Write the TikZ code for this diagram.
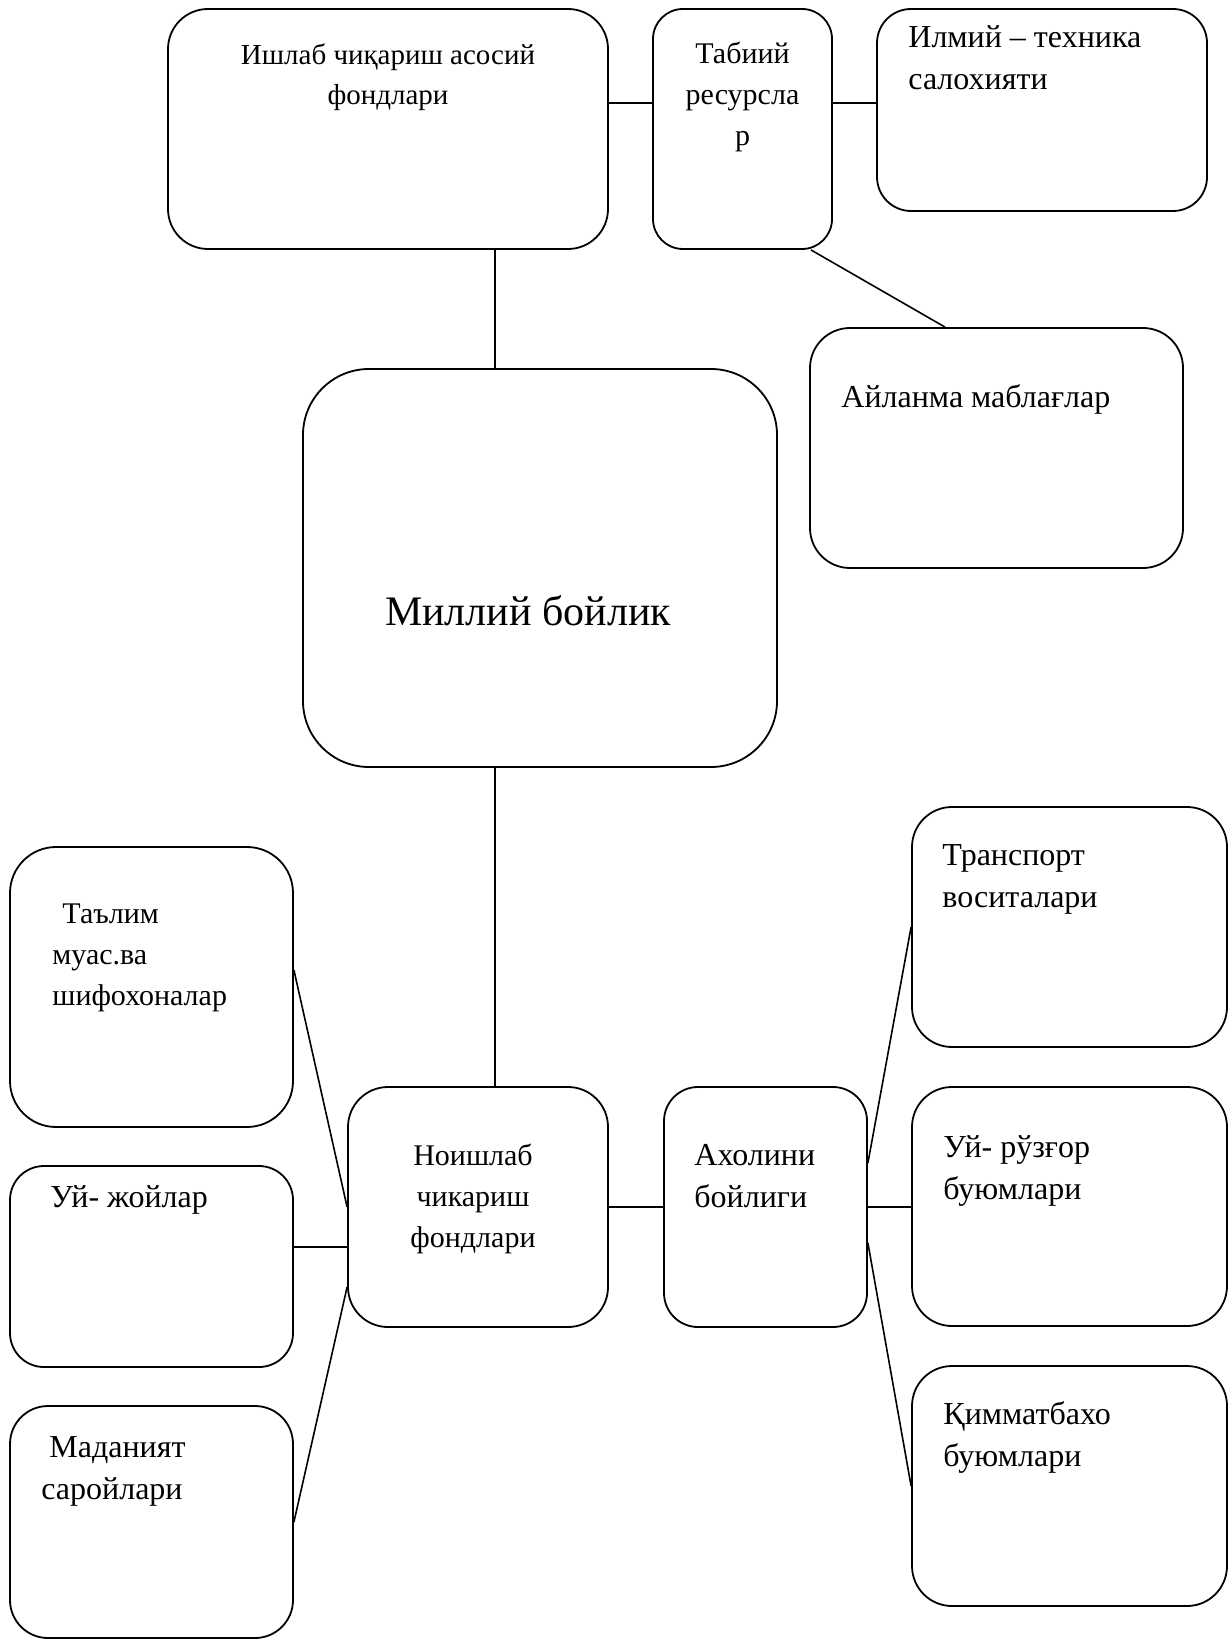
\documentclass[tikz,border=0pt]{standalone}
\usepackage{fontspec}
\setmainfont{Liberation Serif}
\tikzset{
  blok/.style={draw, line width=0.9pt, inner sep=0pt},
  yozuv/.style={inner sep=0pt, font=\fontsize{15}{20.5}\selectfont},
  katta/.style={inner sep=0pt, font=\fontsize{16}{21}\selectfont},
  chiziq/.style={line width=0.8pt}
}

\begin{document}
\begin{tikzpicture}[x=1pt, y=-1pt]
\useasboundingbox (0,0) rectangle (615,820.5);

% yuqori qator
\node[blok, rounded corners=20pt, minimum width=220pt, minimum height=120pt] (ishlab) at (194,64.5) {};
\node[blok, rounded corners=15pt, minimum width=89.5pt, minimum height=120pt] (tabiiy) at (371.25,64.5) {};
\node[blok, rounded corners=17pt, minimum width=165pt, minimum height=101pt] (ilmiy) at (521,55) {};
\node[blok, rounded corners=20pt, minimum width=186.5pt, minimum height=120pt] (aylanma) at (498.25,224) {};

% markaz
\node[blok, rounded corners=33pt, minimum width=237pt, minimum height=199pt] (milliy) at (270,284) {};

% chap ustun
\node[blok, rounded corners=23pt, minimum width=141.5pt, minimum height=140pt] (talim) at (75.75,493.5) {};
\node[blok, rounded corners=17pt, minimum width=141.5pt, minimum height=100.5pt] (uyjoy) at (75.75,633.25) {};
\node[blok, rounded corners=19pt, minimum width=141.5pt, minimum height=116pt] (madaniyat) at (75.75,761) {};

% pastki qator
\node[blok, rounded corners=20pt, minimum width=130pt, minimum height=120pt] (noishlab) at (239,603.5) {};
\node[blok, rounded corners=17pt, minimum width=101.5pt, minimum height=120pt] (aholi) at (382.75,603.5) {};

% o'ng ustun
\node[blok, rounded corners=20pt, minimum width=157.5pt, minimum height=120pt] (transport) at (534.75,463.5) {};
\node[blok, rounded corners=20pt, minimum width=157.5pt, minimum height=119.5pt] (ruzgor) at (534.75,603.25) {};
\node[blok, rounded corners=20pt, minimum width=157.5pt, minimum height=120pt] (qimmat) at (534.75,743) {};

% yozuvlar (base = oxirgi qator)
\node[yozuv, font=\fontsize{14.5}{20}\selectfont, align=center, anchor=base] (ishlab-t) at (194,52.5) {Ишлаб чиқариш асосий\\фондлари};
\node[yozuv, align=center, anchor=base] (tabiiy-t) at (371.25,73) {Табиий\\ресурсла\\р};
\node[katta, align=left, anchor=base west] (ilmiy-t) at (454,45) {Илмий – техника\\салохияти};
\node[katta, anchor=base west] (aylanma-t) at (420.5,204) {Айланма маблағлар};
\node[inner sep=0pt, font=\fontsize{21}{25}\selectfont, anchor=base] (milliy-t) at (264,312.5) {Миллий бойлик};
\node[yozuv, align=left, anchor=base west] (talim-t) at (26,502.5) {\hspace*{5pt}Таълим\\муас.ва\\шифохоналар};
\node[katta, anchor=base west] (uyjoy-t) at (25,603.5) {Уй- жойлар};
\node[katta, align=left, anchor=base west] (madaniyat-t) at (20.5,749.5) {\hspace*{4pt}Маданият\\саройлари};
\node[yozuv, align=center, anchor=base] (noishlab-t) at (236.5,623.5) {Ноишлаб\\чикариш\\фондлари};
\node[katta, align=left, anchor=base west] (aholi-t) at (347,603.5) {Ахолини\\бойлиги};
\node[katta, align=left, anchor=base west] (transport-t) at (471,453.5) {Транспорт\\воситалари};
\node[katta, align=left, anchor=base west] (ruzgor-t) at (471.5,599.5) {Уй- рўзғор\\буюмлари};
\node[katta, align=left, anchor=base west] (qimmat-t) at (471.5,733) {Қимматбахо\\буюмлари};

% bog'lovchi chiziqlar
\draw[chiziq] ([yshift=13pt]ishlab.east) -- ([yshift=13pt]tabiiy.west);
\draw[chiziq] ([yshift=13pt]tabiiy.east) -- ([yshift=13pt]tabiiy.east -| ilmiy.west);
\draw[chiziq] ([xshift=-11pt]tabiiy.south east) -- ([xshift=-25.75pt]aylanma.north);
\draw[chiziq] ([xshift=-22.5pt]milliy.north) -- ([xshift=-22.5pt]milliy.north |- ishlab.south);
\draw[chiziq] ([xshift=-22.5pt]milliy.south) -- ([xshift=-22.5pt]milliy.south |- noishlab.north);
\draw[chiziq] (noishlab.east) -- (aholi.west);
\draw[chiziq] ([yshift=8.5pt]talim.east) -- (noishlab.west);
\draw[chiziq] ([yshift=-20pt]noishlab.west) -- ([yshift=-20pt]noishlab.west -| uyjoy.east);
\draw[chiziq] (madaniyat.east) -- ([yshift=-40pt]noishlab.west);
\draw[chiziq] ([yshift=22pt]aholi.east) -- (transport.west);
\draw[chiziq] (aholi.east) -- (aholi.east -| ruzgor.west);
\draw[chiziq] ([yshift=-18pt]aholi.east) -- (qimmat.west);
\end{tikzpicture}
\end{document}
